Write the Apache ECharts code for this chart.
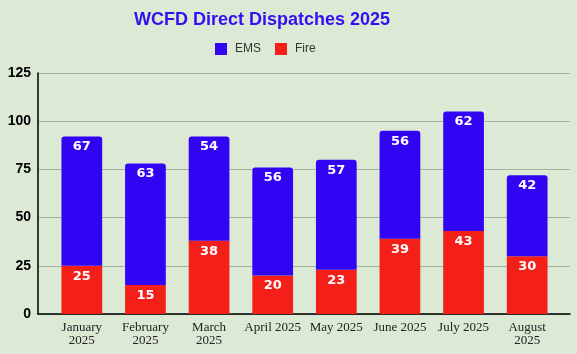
<!DOCTYPE html>
<html>
<head>
<meta charset="utf-8">
<script src="https://cdn.jsdelivr.net/npm/echarts@6/dist/echarts.min.js"></script>
<style>
  html, body { margin: 0; padding: 0; background: #dce9d5; }
  #chart { width: 577px; height: 354px; }
</style>
</head>
<body>
<div id="chart"></div>
<script>
const months = ['January 2025', 'February 2025', 'March 2025', 'April 2025', 'May 2025', 'June 2025', 'July 2025', 'August 2025']
const tickLabels = ['January\n2025', 'February\n2025', 'March\n2025', 'April 2025', 'May 2025', 'June 2025', 'July 2025', 'August\n2025']
const fireValues = [25, 15, 38, 20, 23, 39, 43, 30]
const emsValues = [67, 63, 54, 56, 57, 56, 62, 42]

const EMS_COLOR = '#3204f4'
const FIRE_COLOR = '#f41f19'

const chart = echarts.init(document.getElementById('chart'))

const barLabel = {
  show: true,
  position: 'insideTop',
  distance: 4,
  color: '#fff',
  fontFamily: 'DejaVu Sans',
  fontWeight: 'bold',
  fontSize: 13
}

chart.setOption({
  backgroundColor: '#dce9d5',
  animation: false,
  title: {
    text: 'WCFD Direct Dispatches 2025',
    left: 134,
    top: 11,
    padding: 0,
    textStyle: { color: '#3310f0', fontFamily: 'Liberation Sans', fontWeight: 'bold', fontSize: 18 }
  },
  legend: {
    data: ['EMS', 'Fire'],
    left: 215,
    top: 43,
    padding: 0,
    icon: 'rect',
    itemWidth: 12,
    itemHeight: 12,
    itemGap: 14,
    textStyle: { color: '#333', fontFamily: 'Liberation Sans', fontSize: 12, padding: [0, 0, 0, 3] }
  },
  grid: [
    { left: 38, right: 7, top: 73, bottom: 40 },
    { left: 50, right: 18, top: 73, bottom: 40 }
  ],
  xAxis: [
    {
      gridIndex: 0, type: 'value', min: 0, max: 1,
      axisLine: { show: true, lineStyle: { color: '#000', width: 1.5 } },
      axisTick: { show: false }, axisLabel: { show: false }, splitLine: { show: false }
    },
    {
      gridIndex: 1, type: 'category', data: months,
      axisLine: { show: false }, axisTick: { show: false },
      axisLabel: {
        interval: 0, margin: 7, lineHeight: 13,
        color: '#222', fontFamily: 'Liberation Serif', fontSize: 13,
        formatter: (v, i) => tickLabels[i]
      }
    }
  ],
  yAxis: [
    {
      gridIndex: 0, type: 'value', min: 0, max: 125, interval: 25,
      axisLine: { show: true, lineStyle: { color: '#000', width: 1.5 } },
      axisTick: { show: false },
      axisLabel: { margin: 7, color: '#000', fontFamily: 'Liberation Sans', fontWeight: 'bold', fontSize: 14 },
      splitLine: { lineStyle: { color: '#a3b39c', width: 1 } }
    },
    { gridIndex: 1, type: 'value', min: 0, max: 125, interval: 25, show: false }
  ],
  series: [
    {
      name: 'Fire', type: 'bar', stack: 'total', xAxisIndex: 1, yAxisIndex: 1,
      barWidth: '64%', data: fireValues,
      itemStyle: { color: FIRE_COLOR },
      label: barLabel
    },
    {
      name: 'EMS', type: 'bar', stack: 'total', xAxisIndex: 1, yAxisIndex: 1,
      barWidth: '64%', data: emsValues,
      itemStyle: { color: EMS_COLOR, borderRadius: [3, 3, 0, 0] },
      label: barLabel
    }
  ]
})
</script>
</body>
</html>
